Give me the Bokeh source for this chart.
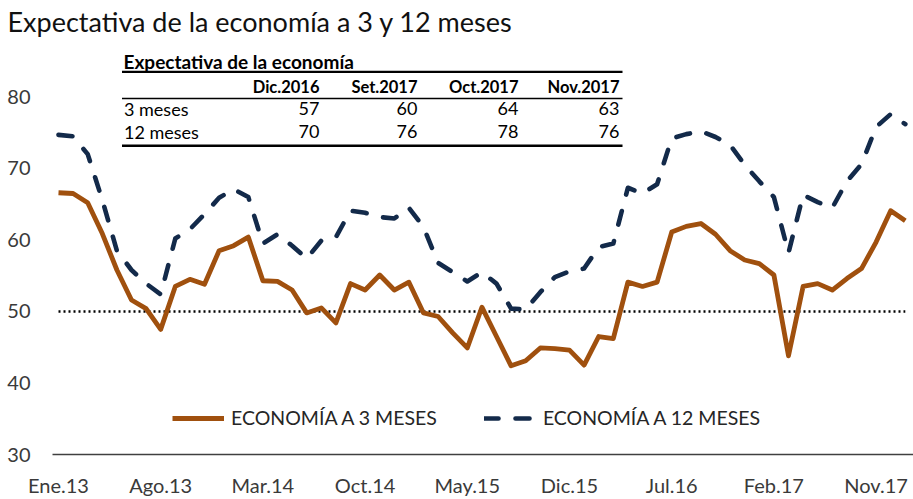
from bokeh.plotting import figure
from bokeh.models import Range1d, FixedTicker, Label, BoxAnnotation, Title
from bokeh.embed import file_html
from bokeh.resources import INLINE

# ---------------- data ----------------
month_idx = list(range(59))  # Ene.13 ... Nov.17

econ_3m = [66.6, 66.5, 65.2, 60.9, 55.8, 51.6, 50.4, 47.5, 53.5, 54.5,
           53.8, 58.5, 59.2, 60.4, 54.3, 54.2, 53.0, 49.8, 50.5, 48.4,
           53.9, 53.0, 55.1, 53.0, 54.1, 49.8, 49.3, 47.0, 44.9, 50.6,
           46.5, 42.4, 43.1, 44.9, 44.8, 44.6, 42.5, 46.5, 46.2, 54.1,
           53.5, 54.1, 61.1, 61.9, 62.3, 60.8, 58.5, 57.2, 56.7, 55.1,
           43.8, 53.5, 53.9, 53.0, 54.6, 56.0, 59.7, 64.1, 62.7]

econ_12m = [74.7, 74.5, 72.0, 65.6, 58.5, 55.8, 53.9, 52.4, 60.2, 61.5,
            63.6, 65.9, 67.1, 66.0, 59.5, 60.8, 59.2, 57.4, 59.9, 60.4,
            64.1, 63.8, 63.2, 63.0, 64.5, 61.8, 56.8, 55.5, 54.2, 55.5,
            53.9, 50.4, 50.3, 52.7, 54.8, 55.6, 56.0, 59.0, 59.5, 67.3,
            66.5, 67.8, 74.2, 74.8, 75.2, 74.4, 73.3, 70.5, 68.2, 66.0,
            58.2, 66.3, 65.3, 64.5, 68.2, 70.6, 75.8, 77.6, 76.2]

tick_idx = [0, 7, 14, 21, 28, 35, 42, 49, 56]
tick_labels = ["Ene.13", "Ago.13", "Mar.14", "Oct.14", "May.15",
               "Dic.15", "Jul.16", "Feb.17", "Nov.17"]
y_ticks = [30, 40, 50, 60, 70, 80]
neutral_level = 50

table_title = "Expectativa de la economía"
table_cols = ["Dic.2016", "Set.2017", "Oct.2017", "Nov.2017"]
table_rows = ["3 meses", "12 meses"]
table_3m = [57, 60, 64, 63]
table_12m = [70, 76, 78, 76]

title_text = "Expectativa de la economía a 3 y 12 meses"
series_names = ["ECONOMÍA A 3 MESES", "ECONOMÍA A 12 MESES"]

# ---------------- styles ----------------
FONT = "Lato"
C_3M = "#A0500E"
C_12M = "#132A4A"
AXIS_TXT = "#3a3a3a"

W, H = 913, 499
BL, BT, BB = 52, 37, 43          # borders (px)
FL, FB = BL, H - BB              # frame left / bottom in canvas px
FRAME_H = H - BT - BB
K = 7.22                         # px per unit
Y_END = 30 + FRAME_H / K
PX_MONTH = 14.6
X_START = -6 / PX_MONTH
X_END = X_START + (W - BL) / PX_MONTH
TXT_DY = 5                       # baseline correction for labels


def sx(x):
    return x - FL


def sy(y):
    return FB - y


p = figure(width=W, height=H, output_backend="svg", toolbar_location=None,
           x_range=Range1d(X_START, X_END), y_range=Range1d(30, Y_END),
           min_border_left=BL, min_border_right=0, min_border_top=BT,
           min_border_bottom=BB)
p.title = Title(text=title_text, align="left", offset=-45, standoff=4,
                text_font=FONT, text_font_size="27px", text_font_style="normal",
                text_color="#111111")
p.outline_line_color = None
p.grid.visible = False
p.background_fill_color = "white"

# reference level
p.line(x=[month_idx[0], month_idx[-1]], y=[neutral_level, neutral_level],
       line_color="black", line_width=2.5, line_dash="2 3")

p.line(month_idx, econ_3m, line_color=C_3M, line_width=4.8, line_join="round",
       legend_label=series_names[0])
p.line(month_idx, econ_12m, line_color=C_12M, line_width=4.6, line_join="round",
       line_cap="round", line_dash="14 17", legend_label=series_names[1])

# axes
p.xaxis.ticker = FixedTicker(ticks=tick_idx)
p.xaxis.major_label_overrides = dict(zip(tick_idx, tick_labels))
p.xaxis.axis_line_color = "#404040"
p.xaxis.axis_line_width = 1.5
p.xaxis.major_label_standoff = 18
p.yaxis.ticker = FixedTicker(ticks=y_ticks)
p.yaxis.axis_line_color = None
p.yaxis.major_label_standoff = 22
for ax in (p.xaxis, p.yaxis):
    ax.major_tick_line_color = None
    ax.minor_tick_line_color = None
    ax.major_tick_out = 0
    ax.major_tick_in = 0
    ax.minor_tick_out = 0
    ax.minor_tick_in = 0
    ax.major_label_text_font = FONT
    ax.major_label_text_font_size = "20px"
    ax.major_label_text_color = AXIS_TXT

# legend
lg = p.legend[0]
lg.location = (120, 25)
lg.orientation = "horizontal"
lg.border_line_color = None
lg.background_fill_alpha = 0
lg.label_text_font = FONT
lg.label_text_font_size = "19.5px"
lg.label_text_color = "#262626"
lg.glyph_width = 52
lg.glyph_height = 20
lg.label_standoff = 7
lg.spacing = 47
lg.padding = 0
lg.margin = 0

# table
p.add_layout(Label(x=sx(123), y=sy(68.3 - TXT_DY), x_units="screen", y_units="screen",
                   text=table_title, text_font=FONT, text_font_size="19px",
                   text_font_style="bold", text_color="black",
                   text_baseline="alphabetic"))


def rule(yc, th):
    p.add_layout(BoxAnnotation(left=sx(121.5), right=sx(622),
                               top=sy(yc - th / 2), bottom=sy(yc + th / 2),
                               left_units="screen", right_units="screen",
                               top_units="screen", bottom_units="screen",
                               fill_color="black", fill_alpha=1.0,
                               line_alpha=0))


rule(73.3, 2.2)
rule(100.0, 1.6)
rule(147.3, 2.5)

col_right = [319, 417, 518, 619]
for c, xr in zip(table_cols, col_right):
    p.add_layout(Label(x=sx(xr), y=sy(93.3 - TXT_DY), x_units="screen", y_units="screen",
                       text=c, text_font=FONT, text_font_size="16.5px",
                       text_font_style="bold", text_color="black",
                       text_align="right", text_baseline="alphabetic"))

for row_name, vals, ybase in ((table_rows[0], table_3m, 115.0),
                              (table_rows[1], table_12m, 138.3)):
    p.add_layout(Label(x=sx(123.5), y=sy(ybase - TXT_DY), x_units="screen", y_units="screen",
                       text=row_name, text_font=FONT, text_font_size="18px",
                       text_color="black", text_baseline="alphabetic"))
    for v, xr in zip(vals, col_right):
        p.add_layout(Label(x=sx(xr), y=sy(ybase - TXT_DY), x_units="screen", y_units="screen",
                           text=str(v), text_font=FONT, text_font_size="18px",
                           text_color="black", text_align="right",
                           text_baseline="alphabetic"))

open("out.html", "w").write(file_html(p, INLINE))
